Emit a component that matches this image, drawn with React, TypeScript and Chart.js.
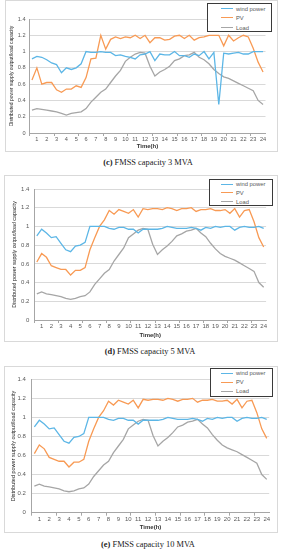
import React, { useEffect, useRef } from 'react';
import { Chart, registerables } from 'chart.js';
Chart.register(...registerables);

// ---- data ----
const timeLabels: string[] = ["","1","","2","","3","","4","","5","","6","","7","","8","","9","","10","","11","","12","","13","","14","","15","","16","","17","","18","","19","","20","","21","","22","","23","","24"];
const seriesNames: string[] = ["wind power", "PV", "Load"];

const windC: number[] = [0.91,0.94,0.93,0.90,0.86,0.84,0.74,0.80,0.78,0.80,0.85,1.00,0.99,0.99,1.00,0.99,0.99,0.95,0.96,0.94,0.93,0.91,0.96,0.97,1.00,0.89,0.97,0.96,0.96,1.00,0.95,0.95,0.93,0.97,0.95,1.00,0.91,0.99,0.35,0.98,0.97,0.98,0.99,0.97,0.97,1.00,1.00,1.00];
const pvC: number[] = [0.65,0.80,0.60,0.62,0.62,0.53,0.50,0.54,0.54,0.58,0.56,0.68,0.91,0.92,1.20,1.03,1.15,1.18,1.16,1.18,1.17,1.20,1.16,1.20,1.11,1.17,1.17,1.14,1.15,1.19,1.20,1.16,1.20,1.14,1.17,1.18,1.20,1.20,1.20,1.07,1.20,1.13,1.17,1.20,1.18,1.04,0.87,0.75];
const loadC: number[] = [0.28,0.30,0.29,0.28,0.27,0.26,0.24,0.22,0.24,0.25,0.26,0.30,0.38,0.44,0.50,0.54,0.62,0.70,0.77,0.88,0.93,0.97,0.99,0.98,0.82,0.70,0.75,0.78,0.82,0.89,0.91,0.95,0.96,0.99,0.93,0.90,0.85,0.78,0.73,0.69,0.67,0.64,0.61,0.58,0.55,0.52,0.40,0.35];

const windD: number[] = [0.90,0.97,0.93,0.88,0.89,0.82,0.75,0.73,0.79,0.80,0.83,1.00,1.00,1.00,1.00,0.98,0.97,0.99,0.99,0.97,0.97,0.93,0.97,0.97,0.97,0.97,0.98,1.00,0.99,0.98,0.98,0.98,0.99,0.98,0.96,0.99,0.98,1.00,0.99,1.00,1.00,0.96,0.99,1.00,0.99,0.99,1.00,0.98];
const pvD: number[] = [0.62,0.71,0.67,0.58,0.56,0.54,0.54,0.48,0.53,0.53,0.56,0.75,0.88,1.00,1.07,1.17,1.13,1.18,1.16,1.14,1.18,1.10,1.19,1.18,1.19,1.19,1.18,1.20,1.19,1.17,1.19,1.19,1.20,1.16,1.18,1.18,1.19,1.17,1.17,1.18,1.14,1.19,1.10,1.17,1.18,1.05,0.88,0.78];
const loadD: number[] = [0.28,0.30,0.28,0.27,0.26,0.25,0.23,0.22,0.23,0.25,0.26,0.30,0.38,0.44,0.50,0.54,0.63,0.70,0.77,0.88,0.92,0.96,0.98,0.97,0.81,0.70,0.75,0.79,0.84,0.90,0.92,0.95,0.96,0.98,0.93,0.89,0.82,0.76,0.71,0.68,0.66,0.64,0.61,0.58,0.55,0.52,0.40,0.35];

const windE: number[] = [0.90,0.97,0.93,0.88,0.89,0.82,0.75,0.73,0.79,0.80,0.83,1.00,1.00,1.00,1.00,0.98,0.97,0.99,0.99,0.97,0.97,0.93,0.97,0.97,0.97,0.97,0.98,1.00,0.99,0.98,0.98,0.98,0.99,0.98,0.96,0.99,0.98,1.00,0.99,1.00,1.00,0.96,0.99,1.00,0.99,0.99,1.00,0.98];
const pvE: number[] = [0.62,0.71,0.67,0.58,0.56,0.54,0.54,0.48,0.53,0.53,0.56,0.75,0.88,1.00,1.07,1.17,1.13,1.18,1.16,1.14,1.18,1.10,1.19,1.18,1.19,1.19,1.18,1.20,1.19,1.17,1.19,1.19,1.20,1.16,1.18,1.18,1.19,1.17,1.17,1.18,1.14,1.19,1.10,1.17,1.18,1.05,0.88,0.78];
const loadE: number[] = [0.28,0.30,0.28,0.27,0.26,0.25,0.23,0.22,0.23,0.25,0.26,0.30,0.38,0.44,0.50,0.54,0.63,0.70,0.77,0.88,0.92,0.96,0.98,0.97,0.81,0.70,0.75,0.79,0.84,0.90,0.92,0.95,0.96,0.98,0.93,0.89,0.82,0.76,0.71,0.68,0.66,0.64,0.61,0.58,0.55,0.52,0.40,0.35];

const COLORS = ["#5cb6e6", "#f89a54", "#a6a6a6"];
const SANS = "'Liberation Sans', Arial, sans-serif";
const SERIF = "'Liberation Serif', 'Times New Roman', serif";

type Panel = {
  left: number; top: number; width: number; height: number;
  padRight: number; padTop: number; yAxisW: number; xAxisH: number;
  yTickPad: number; yTitlePad: number; xTitlePad: number;
  tickFont: number; yTitleFont: number;
  series: number[][];
  legend: { left: number; top: number; width: number; height: number; rows: number[]; lineX: number; lineW: number; textX: number };
  caption: { letter: string; text: string; top: number; center: number };
};

const panels: Panel[] = [
  {
    left: 5, top: 0, width: 273, height: 152,
    padRight: 12.5, padTop: 19, yAxisW: 24.5, xAxisH: 19,
    yTickPad: 4, yTitlePad: 4, xTitlePad: 2.5,
    tickFont: 5.6, yTitleFont: 5,
    series: [windC, pvC, loadC],
    legend: { left: 207, top: 3, width: 65, height: 29, rows: [4.7, 13.7, 23.7], lineX: 13, lineW: 12, textX: 28 },
    caption: { letter: "(c)", text: " FMSS capacity 3 MVA", top: 157.5, center: 148 },
  },
  {
    left: 4, top: 175, width: 274, height: 167,
    padRight: 11.9, padTop: 14, yAxisW: 30.4, xAxisH: 22,
    yTickPad: 5, yTitlePad: 7.5, xTitlePad: 3.4,
    tickFont: 6, yTitleFont: 5.3,
    series: [windD, pvD, loadD],
    legend: { left: 209, top: 179, width: 64, height: 27, rows: [4.3, 12.7, 21.7], lineX: 11, lineW: 12, textX: 26 },
    caption: { letter: "(d)", text: " FMSS capacity 5 MVA", top: 346.7, center: 150 },
  },
  {
    left: 4, top: 366, width: 274, height: 167,
    padRight: 8.8, padTop: 13.3, yAxisW: 27.9, xAxisH: 20.3,
    yTickPad: 6, yTitlePad: 6, xTitlePad: 1.7,
    tickFont: 6, yTitleFont: 5.5,
    series: [windE, pvE, loadE],
    legend: { left: 210, top: 368, width: 63, height: 29, rows: [4.3, 13.3, 22.3], lineX: 10, lineW: 12, textX: 25 },
    caption: { letter: "(e)", text: " FMSS capacity 10 MVA", top: 540, center: 148 },
  },
];

function ChartPanel({ p }: { p: Panel }) {
  const ref = useRef<HTMLCanvasElement | null>(null);
  useEffect(() => {
    if (!ref.current) return;
    const chart = new Chart(ref.current, {
      type: 'line',
      data: {
        labels: timeLabels,
        datasets: p.series.map((d, i) => ({
          label: seriesNames[i],
          data: d,
          borderColor: COLORS[i],
          backgroundColor: COLORS[i],
          borderWidth: 1.3,
          pointRadius: 0,
          fill: false,
          tension: 0,
        })),
      },
      options: {
        animation: false,
        responsive: false,
        maintainAspectRatio: false,
        devicePixelRatio: 1,
        layout: { padding: { left: 0, right: p.padRight, top: p.padTop, bottom: 0 } },
        plugins: { legend: { display: false }, tooltip: { enabled: false } },
        scales: {
          x: {
            type: 'category',
            offset: true,
            grid: {
              offset: true,
              drawOnChartArea: false,
              drawTicks: true,
              tickLength: 3,
              color: (ctx: any) => (ctx.index % 5 === 0 ? '#a6a6a6' : 'rgba(0,0,0,0)'),
            },
            border: { color: '#a6a6a6', width: 1 },
            ticks: { autoSkip: false, maxRotation: 0, minRotation: 0, padding: 0, color: '#595959', font: { size: p.tickFont, family: SANS } },
            title: { display: true, text: 'Time(h)', color: '#333333', font: { size: 6, family: SANS, weight: 'bold' }, padding: { top: 0, bottom: p.xTitlePad } },
            afterFit: (s: any) => { s.height = p.xAxisH; },
          },
          y: {
            min: 0,
            max: 1.4,
            grid: { color: '#d9d9d9', drawTicks: false, lineWidth: 1 },
            border: { color: '#a6a6a6', width: 1 },
            ticks: {
              stepSize: 0.2,
              padding: p.yTickPad,
              color: '#595959',
              font: { size: p.tickFont, family: SANS },
              callback: (v: any) => String(Number(Number(v).toFixed(1))),
            },
            title: { display: true, text: 'Distributed power supply output/load capacity', color: '#262626', font: { size: p.yTitleFont, family: SANS }, padding: { top: p.yTitlePad, bottom: 0 } },
            afterFit: (s: any) => { s.width = p.yAxisW; },
          },
        },
      },
    } as any);
    return () => chart.destroy();
  }, [p]);

  return (
    <>
      <div style={{ position: 'absolute', left: p.left, top: p.top, width: p.width, height: p.height, border: '1px solid #d9d9d9', boxSizing: 'border-box', background: '#fff' }} />
      <canvas ref={ref} width={p.width} height={p.height} style={{ position: 'absolute', left: p.left, top: p.top, width: p.width, height: p.height }} />
      <div style={{ position: 'absolute', left: p.legend.left, top: p.legend.top, width: p.legend.width, height: p.legend.height, border: '1px solid #3a3a3a', boxSizing: 'border-box', background: '#fff' }}>
        {seriesNames.map((n, i) => (
          <React.Fragment key={n}>
            <div style={{ position: 'absolute', left: p.legend.lineX, top: p.legend.rows[i] - 0.7, width: p.legend.lineW, height: 1.4, background: COLORS[i] }} />
            <div style={{ position: 'absolute', left: p.legend.textX, top: p.legend.rows[i] - 4, height: 8, lineHeight: '8px', fontSize: 5.8, fontFamily: SANS, color: '#595959', whiteSpace: 'nowrap' }}>{n}</div>
          </React.Fragment>
        ))}
      </div>
      <div style={{ position: 'absolute', left: p.caption.center - 100, top: p.caption.top, width: 200, textAlign: 'center', fontFamily: SERIF, fontSize: 8.4, lineHeight: '10px', color: '#222', whiteSpace: 'nowrap' }}>
        <b>{p.caption.letter}</b>{p.caption.text}
      </div>
    </>
  );
}

export default function App() {
  return (
    <div style={{ position: 'absolute', left: 0, top: 0, width: 283, height: 550, background: '#fff', overflow: 'hidden' }}>
      {panels.map((p, i) => <ChartPanel key={i} p={p} />)}
    </div>
  );
}
